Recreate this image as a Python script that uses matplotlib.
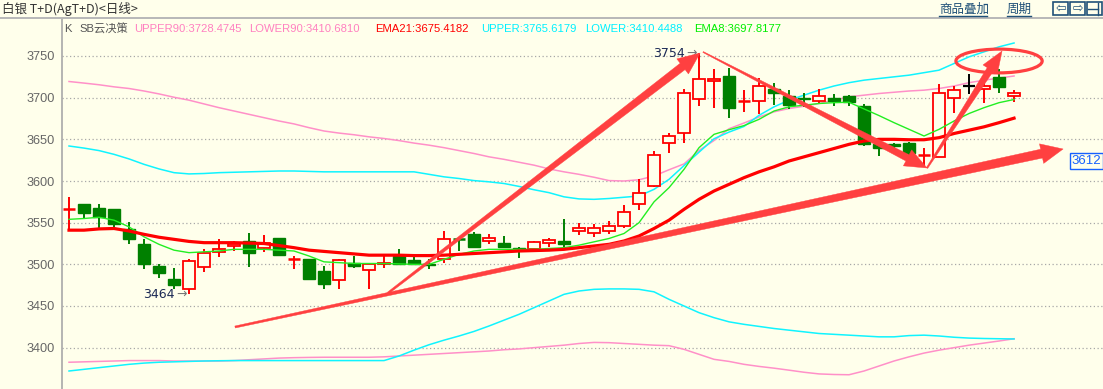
import numpy as np
import matplotlib
matplotlib.use("Agg")
import matplotlib.pyplot as plt
from matplotlib.patches import Polygon, Ellipse, Rectangle
from matplotlib.lines import Line2D

plt.rcParams['font.family'] = ['Liberation Sans', 'Noto Sans CJK SC', 'DejaVu Sans']

W, H = 1103, 389
BG = '#FFFFEB'

# ---------------- data ----------------
opens  = [3566, 3572, 3568, 3566, 3543, 3525, 3497.5, 3482, 3470.5, 3497, 3515, 3522.5, 3528, 3520, 3531.5, 3507,
          3506.5, 3491.5, 3481.5, 3501, 3493.5, 3500, 3510, 3505, 3500.5, 3506, 3530, 3536, 3528.5, 3526, 3520, 3518.5,
          3525.5, 3527.5, 3540, 3538, 3540, 3546, 3572, 3593.5, 3646, 3658, 3699, 3719.5, 3726, 3696.5, 3696.5, 3710,
          3702.5, 3700, 3696, 3699.5, 3702.5, 3690.5, 3644.5, 3644.5, 3646, 3631, 3628.5, 3700, 3714.5, 3710, 3724.5, 3701.5]
highs  = [3581, 3573, 3573, 3567, 3551, 3530, 3501, 3496, 3507, 3519, 3530, 3528, 3538, 3535, 3532, 3510,
          3507, 3497.5, 3506, 3510, 3501, 3513, 3518, 3511, 3506, 3540, 3530.5, 3539, 3537, 3533.5, 3521, 3528,
          3532, 3554.5, 3550, 3549, 3552, 3571.5, 3603, 3635.5, 3658, 3711, 3754, 3734, 3736, 3709, 3724, 3718,
          3709, 3706, 3710, 3705, 3703, 3693, 3645, 3646, 3647, 3640, 3716, 3714, 3728, 3721, 3734, 3709]
lows   = [3541, 3554, 3544, 3545, 3524, 3494, 3483.5, 3470.5, 3464, 3491, 3509, 3516, 3497, 3515, 3510.5, 3494,
          3481, 3470, 3470, 3496, 3470, 3496, 3499, 3499, 3494.5, 3502, 3516.5, 3520, 3524.5, 3520, 3508, 3518,
          3521, 3518.5, 3535.5, 3532.5, 3537, 3544, 3565, 3592.5, 3633.5, 3646, 3690.5, 3688, 3675.5, 3683, 3681, 3691.5,
          3686, 3689, 3693, 3690.5, 3690.5, 3642, 3630, 3639, 3631, 3618.5, 3628.5, 3682, 3705, 3694, 3706, 3695]
closes = [3566, 3562, 3557, 3548, 3531, 3500, 3489.5, 3475, 3504.5, 3513.5, 3519, 3525, 3514, 3526, 3511, 3507,
          3482, 3476, 3505.5, 3497.5, 3500, 3502, 3500, 3500.5, 3499, 3530.5, 3530, 3520.5, 3532, 3520.5, 3517.5, 3527,
          3529.5, 3524, 3543.5, 3543, 3546.5, 3562.5, 3586, 3631.5, 3654, 3705, 3722, 3722, 3687.5, 3696.5, 3714, 3705.5,
          3691.5, 3698, 3702.5, 3696, 3694.5, 3644.5, 3640, 3641.5, 3633.5, 3631, 3706, 3709, 3714.5, 3714.5, 3713, 3706]
# candles drawn as black doji
black_doji = [60]

ema21 = [3541, 3541, 3542.5, 3543, 3540, 3536, 3532.5, 3530, 3527.5, 3526, 3526, 3526, 3525.5, 3525, 3522.5, 3520,
         3517, 3515.5, 3514, 3512.5, 3511, 3511, 3511, 3510.5, 3510.5, 3511, 3512, 3513, 3514, 3515, 3516, 3516.5,
         3517, 3518, 3520, 3522, 3524, 3528, 3534, 3543, 3553, 3566, 3578, 3588, 3596, 3604, 3611, 3617,
         3624, 3629, 3634, 3639, 3644, 3648, 3650, 3650, 3649.5, 3649.5, 3652, 3657, 3661, 3665, 3670, 3675.4]
ema8 = [3554, 3555, 3556.5, 3553, 3545, 3533, 3524, 3517, 3514, 3515, 3516, 3518, 3518, 3518, 3517, 3516,
        3510, 3503, 3502, 3501, 3501, 3501, 3500.5, 3500, 3500, 3506, 3512, 3516, 3518, 3518, 3518, 3518,
        3519, 3520, 3523, 3527, 3531, 3537, 3550, 3575, 3592, 3614, 3640, 3656, 3661.5, 3666.5, 3674, 3684,
        3689, 3691, 3693, 3694, 3694.5, 3686.5, 3678.5, 3670, 3662, 3654, 3662, 3672, 3681, 3688, 3694, 3697.8]
upper90 = [3719.4, 3717.5, 3715.5, 3713, 3711, 3708, 3704.5, 3700.5, 3697, 3692.5, 3688, 3684, 3680, 3676, 3672, 3668.5,
           3664, 3660, 3657.5, 3655.5, 3653, 3651, 3648.5, 3645.5, 3643, 3640, 3636.5, 3633, 3629, 3626, 3622.5, 3619,
           3614.5, 3611, 3608, 3604.5, 3600.5, 3600, 3601.5, 3606, 3613.5, 3620.5, 3636.6, 3648.6, 3662.7, 3669.6, 3676.8, 3683,
           3687, 3689.7, 3693, 3697, 3701, 3703, 3705, 3706.5, 3708, 3709, 3711, 3714, 3718, 3721, 3723.5, 3726]
upper = [3642, 3639.5, 3636.5, 3632, 3626.5, 3620, 3614.5, 3610, 3608.5, 3609, 3610, 3610.5, 3611, 3611.5, 3612, 3612,
         3611.5, 3611, 3611, 3611, 3611, 3611, 3611, 3611, 3608, 3605, 3603, 3600.5, 3599, 3597, 3593.5, 3589.5,
         3586, 3581, 3578.5, 3578, 3579, 3580.5, 3582, 3590, 3602, 3618.5, 3634.6, 3650.7, 3658.7, 3665.5, 3678.8, 3689,
         3697, 3703, 3709, 3714, 3718, 3721, 3723, 3725, 3727, 3730, 3733, 3741, 3749, 3755, 3761, 3765.6]
lower90 = [3382.5, 3383, 3383.5, 3384, 3384.5, 3384.5, 3384.5, 3384, 3384, 3384, 3384, 3384.5, 3385.5, 3386.5, 3387.5, 3388,
           3388.3, 3388.5, 3388.5, 3388.5, 3388.5, 3389, 3390, 3391, 3392, 3393, 3394, 3395, 3396, 3397.5, 3398.5, 3400,
           3401.5, 3403, 3405, 3406.3, 3406, 3405, 3404, 3403, 3402.4, 3398, 3392, 3386, 3383.5, 3380, 3377.5, 3375.4,
           3373, 3370.5, 3368.5, 3367.8, 3367.5, 3372, 3378, 3384, 3389, 3393.5, 3397, 3400, 3403, 3405.5, 3408, 3410.7]
lower = [3372, 3374, 3376, 3378, 3380, 3381.5, 3382.5, 3383, 3383.5, 3384, 3384.3, 3384.5, 3384.5, 3384.5, 3384.5, 3384.5,
         3384.5, 3384.5, 3384.5, 3384.5, 3384.5, 3384.5, 3390, 3397, 3403.5, 3409, 3414, 3419.5, 3426, 3433, 3440, 3448,
         3456, 3464, 3468, 3470, 3470.5, 3470.5, 3470, 3467, 3458, 3450, 3442, 3436, 3431, 3428, 3425.5, 3423,
         3421, 3419, 3417, 3416, 3415, 3414, 3413, 3413, 3414.5, 3415, 3414, 3412.5, 3411.5, 3411, 3410.7, 3410.45]

yticks = [3400, 3450, 3500, 3550, 3600, 3650, 3700, 3750]

legend_items = [("K", '#555555'), ("SB云决策", '#555555'),
                ("UPPER90:3728.4745", '#ff80c0'), ("LOWER90:3410.6810", '#ff80c0'),
                ("EMA21:3675.4182", '#ff0000'), ("UPPER:3765.6179", '#00f0ff'),
                ("LOWER:3410.4488", '#00f0ff'), ("EMA8:3697.8177", '#00ee00')]
legend_x = [64, 79, 134, 249, 375, 481, 585, 694]

# annotation arrows: (tail idx, tail price, tip idx, tip price, tail width px, shaft width px, head len px, head width px)
arrows = [
    (21.27, 3465.6, 42.07, 3753.6, 2.0, 8.0, 22, 19),
    (42.27, 3754.8, 57.20, 3615.6, 1.0, 7.0, 22, 18),
    (57.20, 3615.6, 62.20, 3756.0, 1.5, 7.0, 22, 17),
    (11.07, 3424.8, 66.27, 3638.4, 2.0, 9.0, 22, 20),
]
ellipse_c = (62.0, 3744.0)
ellipse_wh = (5.75, 28.5)

# ---------------- figure ----------------
fig = plt.figure(figsize=(W / 100, H / 100), dpi=100, facecolor=BG)

def fx(x):
    return x / W

def fy(y):
    return 1 - y / H

ax = fig.add_axes([fx(62), 0, 1 - fx(62), fy(18)])
ax.set_facecolor(BG)
n = len(opens)
idx = np.arange(n)
ax.set_xlim(-0.467, 68.93)
ax.set_ylim(3350.4, 3795.6)

for s in ['top', 'right', 'bottom']:
    ax.spines[s].set_visible(False)
ax.spines['left'].set_color('#a8a8a8')
ax.spines['left'].set_linewidth(1.2)
ax.set_xticks([])
ax.set_yticks(yticks)
ax.set_yticklabels([str(t) for t in yticks])
ax.tick_params(axis='y', length=0, pad=5, labelsize=9.2, labelcolor='#666666')
for t in yticks:
    ax.axhline(t, color='#a8a8a8', lw=0.9, ls=(0, (1, 2)), zorder=1)

# channel / EMA lines
ax.plot(idx, upper90, color='#ff90c8', lw=1.1, zorder=3)
ax.plot(idx, lower90, color='#ff90c8', lw=1.1, zorder=3)
ax.plot(idx, upper, color='#10f4ff', lw=1.1, zorder=3)
ax.plot(idx, lower, color='#10f4ff', lw=1.1, zorder=3)

# candles
RED = '#ff0000'
GRN = '#008000'
bw = 0.82
for i in range(n):
    o, h, l, c = opens[i], highs[i], lows[i], closes[i]
    if i in black_doji:
        ax.vlines(i, l, h, color='black', lw=1.4, zorder=4)
        ax.hlines(o, i - bw / 2, i + bw / 2, color='black', lw=1.6, zorder=4)
        continue
    if abs(c - o) < 0.3:
        col = RED if i != 26 else GRN
        ax.vlines(i, l, h, color=col, lw=1.4, zorder=4)
        ax.hlines(o, i - bw / 2, i + bw / 2, color=col, lw=1.8, zorder=4)
        continue
    if c > o:
        ax.vlines(i, c, h, color=RED, lw=1.4, zorder=4)
        ax.vlines(i, l, o, color=RED, lw=1.4, zorder=4)
        ax.add_patch(Rectangle((i - bw / 2, o), bw, c - o, facecolor=BG, edgecolor=RED, lw=1.3, zorder=4))
    else:
        ax.vlines(i, l, h, color=GRN, lw=1.4, zorder=4)
        ax.add_patch(Rectangle((i - bw / 2, c), bw, o - c, facecolor=GRN, edgecolor=GRN, lw=1.0, zorder=4))

ax.plot(idx, ema8, color='#22ee22', lw=1.0, zorder=5)
ax.plot(idx, ema21, color='#ff0000', lw=2.3, zorder=5)

# high / low markers
ax.text(7.07, 3464, "3464", ha='right', va='center', fontsize=9, color='#1c2a55', zorder=6,
        family=['DejaVu Sans'])
ax.text(7.17, 3464, "→", ha='left', va='center', fontsize=9, color='#777777', zorder=6,
        family=['DejaVu Sans'])
ax.text(41.07, 3753.5, "3754", ha='right', va='center', fontsize=9, color='#1c2a55', zorder=6,
        family=['DejaVu Sans'])
ax.text(41.17, 3753.5, "→", ha='left', va='center', fontsize=9, color='#777777', zorder=6,
        family=['DejaVu Sans'])

# tapered red arrows
fig.canvas.draw()
inv = ax.transData.inverted()
ACOL = '#ff4040'
for (ti, tp, hi, hp, w0, w1, hl, hw) in arrows:
    p0 = ax.transData.transform((ti, tp))
    p1 = ax.transData.transform((hi, hp))
    d = p1 - p0
    L = np.hypot(*d)
    u = d / L
    nrm = np.array([-u[1], u[0]])
    base = p1 - u * hl
    pts = [p0 + nrm * w0 / 2, base + nrm * w1 / 2, base + nrm * hw / 2, p1,
           base - nrm * hw / 2, base - nrm * w1 / 2, p0 - nrm * w0 / 2]
    data_pts = inv.transform(np.array(pts))
    ax.add_patch(Polygon(data_pts, closed=True, facecolor=ACOL, edgecolor=ACOL, lw=0.3, zorder=8))

ax.add_patch(Ellipse(ellipse_c, ellipse_wh[0], ellipse_wh[1], facecolor='none', edgecolor=ACOL, lw=2.3, zorder=8))

# right price label
ax.text(fx(1086.5 - 62) / (1 - fx(62)), (389 - 161) / (389 - 18), "3612", transform=ax.transAxes,
        ha='center', va='center', fontsize=9.5, color='#1560ff', zorder=9,
        bbox=dict(boxstyle='square,pad=0.12', facecolor=BG, edgecolor='#1560ff', lw=1.0))

# legend row
for (txt, col), x in zip(legend_items, legend_x):
    fig.text(fx(x), fy(29), txt, color=col, fontsize=8.1, ha='left', va='center')

# header
fig.add_artist(Line2D([0, 1], [fy(18), fy(18)], color='#b8b8b8', lw=1.4))
fig.text(fx(2), fy(9), "白银 T+D(AgT+D)<日线>", color='#333333', fontsize=9,
         ha='left', va='center', family=['Noto Sans CJK SC', 'DejaVu Sans'])
LINK = '#1f5078'
fig.text(fx(939), fy(9), "商品叠加", color=LINK, fontsize=9, ha='left', va='center',
         family=['Noto Sans CJK SC'])
fig.add_artist(Line2D([fx(939), fx(987)], [fy(16), fy(16)], color=LINK, lw=1.0))
fig.text(fx(1007), fy(9), "周期", color=LINK, fontsize=9, ha='left', va='center',
         family=['Noto Sans CJK SC'])
fig.add_artist(Line2D([fx(1007), fx(1031)], [fy(16), fy(16)], color=LINK, lw=1.0))
for k, x0 in enumerate([1053, 1070, 1087]):
    fig.add_artist(Rectangle((fx(x0), fy(15)), fx(15), 13 / H, facecolor='none', edgecolor=LINK, lw=1.2))
fig.text(fx(1060.5), fy(8.5), "⇦", color=LINK, fontsize=9, ha='center', va='center', family=['DejaVu Sans'])
fig.text(fx(1077.5), fy(8.5), "⇨", color=LINK, fontsize=9, ha='center', va='center', family=['DejaVu Sans'])
fig.add_artist(Line2D([fx(1088), fx(1098)], [fy(8.5), fy(8.5)], color=LINK, lw=1.0))
fig.add_artist(Line2D([fx(1098), fx(1098)], [fy(3), fy(15)], color=LINK, lw=1.0))

fig.savefig("out.png", dpi=100, facecolor=BG)
